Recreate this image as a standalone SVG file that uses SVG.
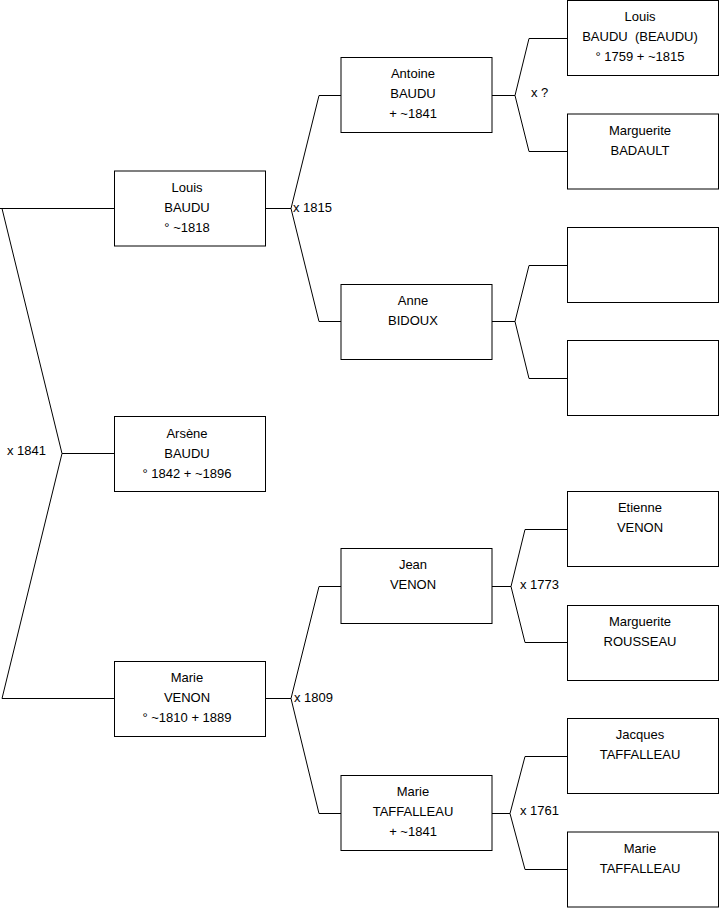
<svg xmlns="http://www.w3.org/2000/svg" width="719" height="908" viewBox="0 0 719 908">
<style>
.box{fill:#fff;stroke:#000;stroke-width:1}
.ln{fill:none;stroke:#000;stroke-width:1}
text{font-family:"Liberation Sans",Arial,sans-serif;font-size:13px;fill:#000}
.c{text-anchor:middle}
</style>
<rect width="719" height="908" fill="#fff"/>
<g id="connectors">
<polyline class="ln" points="114,208.5 0,208.5"/>
<polyline class="ln" points="2,208.5 62,453.5 2,698.5"/>
<polyline class="ln" points="62,453.5 114,453.5"/>
<polyline class="ln" points="2,698.5 114,698.5"/>
<polyline class="ln" points="265,208.5 291,208.5"/>
<polyline class="ln" points="341,95.5 319,95.5 291,208.5 319,321.5 341,321.5"/>
<polyline class="ln" points="265,698.5 291,698.5"/>
<polyline class="ln" points="341,586.5 319,586.5 291,698.5 319,813.5 341,813.5"/>
<polyline class="ln" points="492,95.5 515,95.5"/>
<polyline class="ln" points="567,38.5 529,38.5 515,95.5 529,151.5 567,151.5"/>
<polyline class="ln" points="492,321.5 515,321.5"/>
<polyline class="ln" points="567,265.5 529,265.5 515,321.5 529,378.5 567,378.5"/>
<polyline class="ln" points="492,586.5 511,586.5"/>
<polyline class="ln" points="567,529.5 525,529.5 511,586.5 525,642.5 567,642.5"/>
<polyline class="ln" points="492,813.5 510,813.5"/>
<polyline class="ln" points="567,756.5 525,756.5 510,813.5 525,869.5 567,869.5"/>
<text x="7" y="455">x 1841</text>
<text x="293" y="212">x 1815</text>
<text x="294" y="702">x 1809</text>
<text x="531" y="97">x ?</text>
<text x="520" y="589">x 1773</text>
<text x="520" y="815">x 1761</text>
</g>
<g id="n-louis-baudu"><rect class="box" x="114.5" y="171" width="151" height="75"/>
<text class="c" x="187" y="191.5">Louis</text><text class="c" x="187" y="212">BAUDU</text><text class="c" x="187" y="231.5">° ~1818</text></g>
<g id="n-arsene"><rect class="box" x="114.5" y="416.5" width="151" height="75"/>
<text class="c" x="187" y="438">Arsène</text><text class="c" x="187" y="458">BAUDU</text><text class="c" x="187" y="478">° 1842 + ~1896</text></g>
<g id="n-marie-venon"><rect class="box" x="114.5" y="661.5" width="151" height="75"/>
<text class="c" x="187" y="682">Marie</text><text class="c" x="187" y="702">VENON</text><text class="c" x="187" y="722">° ~1810 + 1889</text></g>
<g id="n-antoine"><rect class="box" x="341" y="57.5" width="151" height="75"/>
<text class="c" x="413" y="78">Antoine</text><text class="c" x="413" y="98">BAUDU</text><text class="c" x="413" y="118">+ ~1841</text></g>
<g id="n-anne"><rect class="box" x="341" y="284.5" width="151" height="75"/>
<text class="c" x="413" y="305">Anne</text><text class="c" x="413" y="325">BIDOUX</text></g>
<g id="n-jean"><rect class="box" x="341" y="548.5" width="151" height="75"/>
<text class="c" x="413" y="569">Jean</text><text class="c" x="413" y="589">VENON</text></g>
<g id="n-marie-taffalleau"><rect class="box" x="341" y="775.5" width="151" height="75"/>
<text class="c" x="413" y="796">Marie</text><text class="c" x="413" y="816">TAFFALLEAU</text><text class="c" x="413" y="836">+ ~1841</text></g>
<g id="n-louis-beaudu"><rect class="box" x="567.5" y="0.5" width="151" height="75"/>
<text class="c" x="640" y="21">Louis</text><text class="c" x="640" y="41" xml:space="preserve">BAUDU  (BEAUDU)</text><text class="c" x="640" y="61">° 1759 + ~1815</text></g>
<g id="n-marguerite-badault"><rect class="box" x="567.5" y="114" width="151" height="75"/>
<text class="c" x="640" y="134.5">Marguerite</text><text class="c" x="640" y="154.5">BADAULT</text></g>
<g id="n-empty1"><rect class="box" x="567.5" y="227.5" width="151" height="75"/></g>
<g id="n-empty2"><rect class="box" x="567.5" y="340.5" width="151" height="75"/></g>
<g id="n-etienne"><rect class="box" x="567.5" y="491.5" width="151" height="75"/>
<text class="c" x="640" y="512">Etienne</text><text class="c" x="640" y="532">VENON</text></g>
<g id="n-marguerite-rousseau"><rect class="box" x="567.5" y="605.5" width="151" height="75"/>
<text class="c" x="640" y="626">Marguerite</text><text class="c" x="640" y="646">ROUSSEAU</text></g>
<g id="n-jacques"><rect class="box" x="567.5" y="718.5" width="151" height="75"/>
<text class="c" x="640" y="739">Jacques</text><text class="c" x="640" y="759">TAFFALLEAU</text></g>
<g id="n-marie-taffalleau2"><rect class="box" x="567.5" y="832" width="151" height="75"/>
<text class="c" x="640" y="852.5">Marie</text><text class="c" x="640" y="872.5">TAFFALLEAU</text></g>
</svg>
